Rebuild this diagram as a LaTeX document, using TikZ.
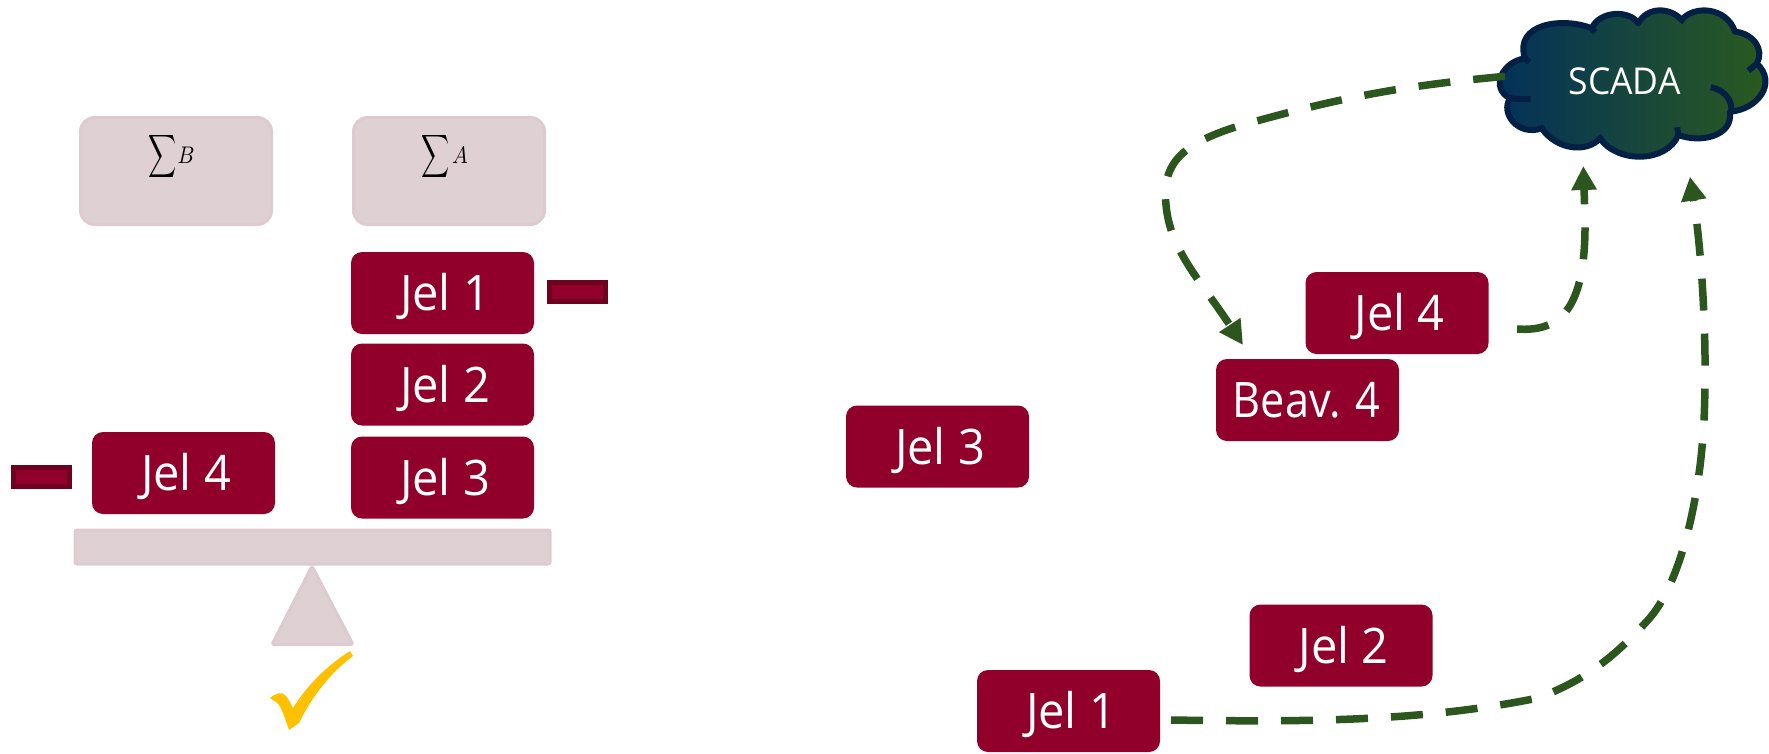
\documentclass[tikz,border=0pt]{standalone}
\usepackage{fontspec}
\setmainfont[FakeStretch=0.96]{Open Sans}
\usetikzlibrary{arrows.meta}
\definecolor{jelred}{HTML}{90002B}
\definecolor{jeldark}{HTML}{6E0020}
\definecolor{scalefill}{HTML}{DFD0D4}
\definecolor{scaleline}{HTML}{DCCBD0}
\definecolor{arrowgreen}{HTML}{2B571F}
\definecolor{cloudblue}{HTML}{02305C}
\definecolor{cloudgreen}{HTML}{2C5C1C}
\definecolor{cloudline}{HTML}{021F44}
\definecolor{checkyellow}{HTML}{FFC000}
\tikzset{
  jelbox/.style={fill=jelred,text=white,rounded corners=11pt,minimum width=183pt,
    minimum height=82pt,inner sep=0pt,text height=35pt,text depth=0pt,
    font=\fontsize{49}{52}\selectfont,execute at begin node=\hspace*{5pt}},
  sumbox/.style={fill=scalefill,draw=scaleline,line width=3pt,rounded corners=14pt,
    minimum width=191pt,minimum height=107pt,inner sep=0pt},
  minusbar/.style={fill=jelred,draw=jeldark,line width=5pt,minimum width=56pt,
    minimum height=19pt,inner sep=0pt},
  sumtext/.style={inner sep=0pt},
  flow/.style={arrowgreen,line width=7.5pt,dash pattern=on 32pt off 23pt,
    -{Triangle[length=24pt,width=24pt,sep=0pt]}}
}
\begin{document}
\begin{tikzpicture}[x=1pt,y=-1pt]
      \useasboundingbox (0,0) rectangle (1769,753);
      % scale on the left
      \node [sumbox] (sumb) at (176,171) {};
      \node [sumbox] (suma) at (449,171) {};
      \node [sumtext] (sumbs) at (163,156) {\scalebox{1.95}[3]{$\displaystyle\sum$}};
      \node [sumtext] (sumbl) at (186,155) {\scalebox{2.1}[2.4]{$B$}};
      \node [sumtext] (sumas) at (436,156) {\scalebox{1.95}[3]{$\displaystyle\sum$}};
      \node [sumtext] (sumal) at (460,155) {\scalebox{2.1}[2.4]{$A$}};
      \node [jelbox] (jela) at (442.5,293) {Jel 1};
      \node [jelbox] (jelb) at (442.5,384.5) {Jel 2};
      \node [jelbox] (jelc) at (442.5,477.5) {Jel 3};
      \node [jelbox] (jeld) at (183.5,473) {Jel 4};
      \node [minusbar] (minusa) at (577.5,291.5) {};
      \node [minusbar] (minusd) at (41.5,476.5) {};
      \fill [scalefill,draw=scaleline,line width=3pt,rounded corners=2pt]
            (75,530) rectangle (550,564);
      \fill [scalefill,draw=scaleline,line width=3pt,rounded corners=2pt,line join=round]
            (312,566) -- (353,644.5) -- (272,644.5) -- cycle;
      \fill [checkyellow] (270,698) .. controls (276,693) and (282,691) .. (286,696)
            .. controls (289,700) and (291,704) .. (293,708)
            .. controls (308,684) and (328,665) .. (350,651)
            -- (353,656) .. controls (330,673) and (311,698) .. (299,723)
            -- (289,730) .. controls (285,718) and (281,705) .. (276,702) -- cycle;
      % nodes on the right
      \node [jelbox] (jelcr) at (937.5,446.5) {Jel 3};
      \node [jelbox] (beav) at (1307.5,400) {\hspace*{-7pt}\scalebox{0.92}[1]{Beav. 4}};
      \node [jelbox] (jeldr) at (1397,313) {Jel 4};
      \node [jelbox] (jelbr) at (1341,645.5) {Jel 2};
      \node [jelbox] (jelar) at (1068.5,711) {Jel 1};
      % cloud, in three to the pixel
      \begin{scope}[shift={(1470,0)},x=0.3333pt,y=-0.3333pt,line width=6pt,cloudline]
        \path [left color=cloudblue,right color=cloudgreen,draw=cloudline,line join=round]
            (165,175) .. controls (95,185) and (60,265) .. (120,295)
            .. controls (90,340) and (145,410) .. (215,385)
            .. controls (260,450) and (350,460) .. (390,415)
            .. controls (440,490) and (590,490) .. (625,405)
            .. controls (690,430) and (790,410) .. (780,335)
            .. controls (860,330) and (925,250) .. (860,190)
            .. controls (885,150) and (850,100) .. (795,95)
            .. controls (770,20) and (670,15) .. (635,60)
            .. controls (600,20) and (530,20) .. (505,70)
            .. controls (480,30) and (390,30) .. (365,85)
            .. controls (280,50) and (130,70) .. (165,175) -- cycle;
        \draw (165,175) -- (178,187);
        \draw (120,295) .. controls (140,297) and (160,298) .. (182,297);
        \draw (215,385) -- (223,380);
        \draw (385,408) -- (395,420);
        \draw (622,382) -- (625,405);
        \draw (722,262) .. controls (770,270) and (790,310) .. (783,338);
        \draw (835,212) -- (862,190);
        \draw (630,65) -- (637,60);
        \draw (375,97) -- (365,85);
        \coordinate (cloudw) at (105,229);
        \coordinate (cloudsa) at (340,498);
        \coordinate (cloudsb) at (660,530);
      \end{scope}
      \node [text=white,inner sep=0pt,font=\fontsize{37}{40}\selectfont] (scada) at (1624.5,81) {SCADA};
      % connectors
      \coordinate (beavin) at (1243,345);
      \coordinate (jeldout) at (1517,329);
      \coordinate (jelaout) at (1171,720);
      \draw [flow] (cloudw) .. controls (1400,86) and (1340,98) .. (1253,122)
            .. controls (1178,142) and (1162,165) .. (1166,205)
            .. controls (1170,250) and (1200,280) .. (beavin);
      \draw [flow] (jeldout) .. controls (1560,332) and (1586,310) .. (1585,220)
            -- (cloudsa);
      \draw [flow] (jelaout) .. controls (1300,722) and (1420,722) .. (1538,698)
            .. controls (1580,682) and (1610,662) .. (1648,620)
            .. controls (1680,585) and (1700,500) .. (1704,420)
            .. controls (1708,330) and (1700,240) .. (cloudsb);
    \end{tikzpicture}
\end{document}
